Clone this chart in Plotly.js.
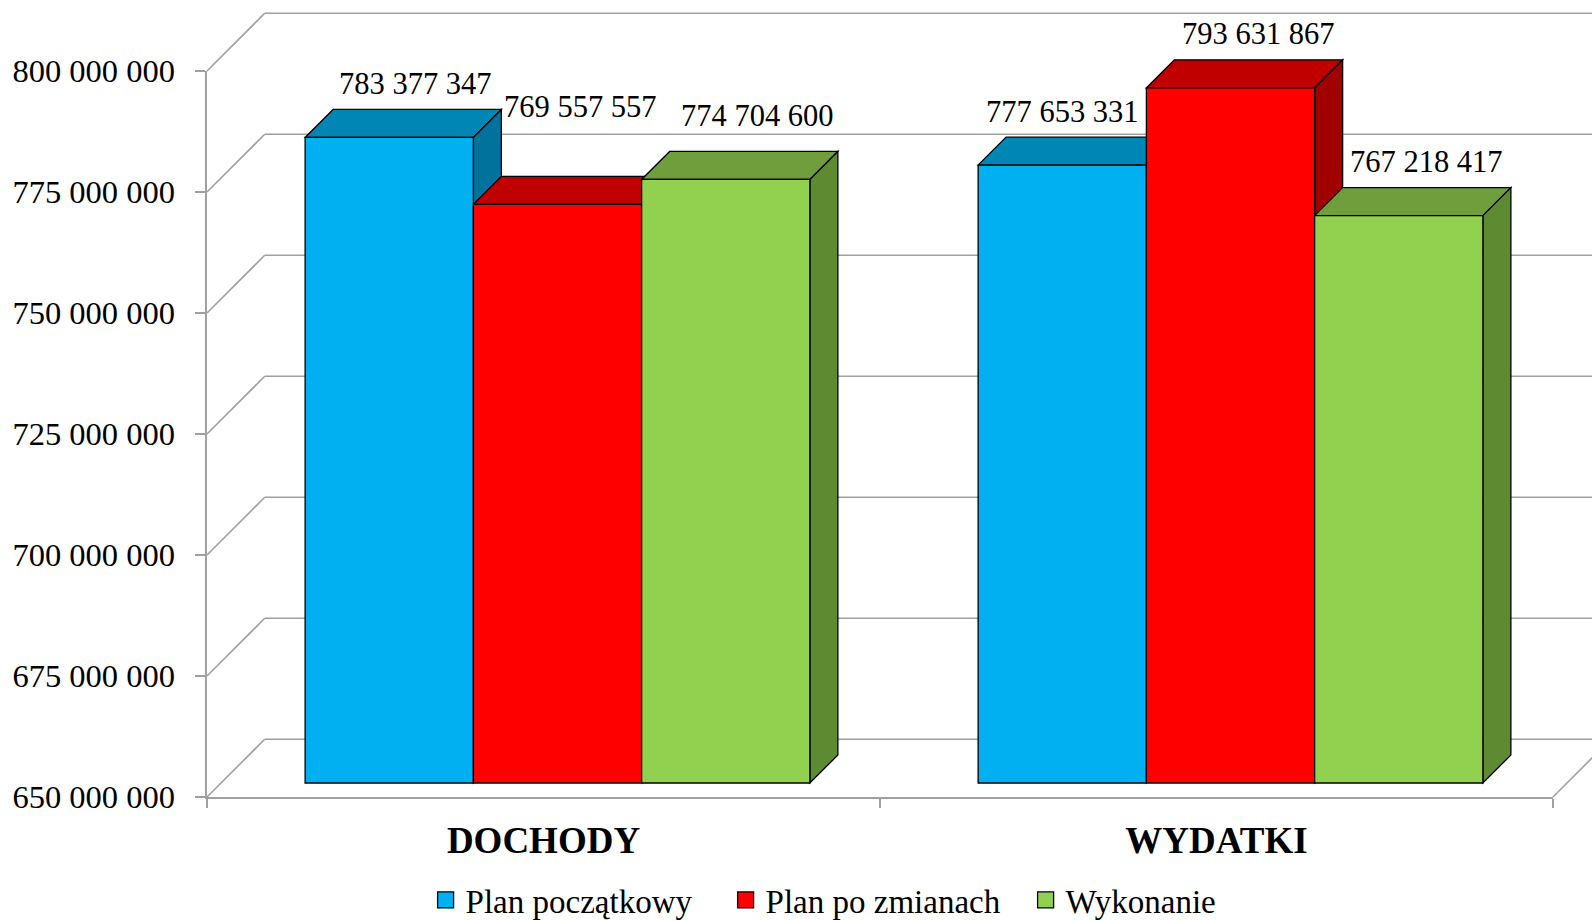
<!DOCTYPE html>
<html><head><meta charset="utf-8">
<script src="https://cdn.plot.ly/plotly-3.0.1.min.js"></script>
<style>html,body{margin:0;padding:0;background:#fff}</style>
</head><body><div id="chart" style="width:1592px;height:921px"></div>
<script>
// ---------- data ----------
const categories = ['DOCHODY', 'WYDATKI'];
const seriesNames = ['Plan początkowy', 'Plan po zmianach', 'Wykonanie'];
const planPoczatkowy = [783377347, 777653331];
const planPoZmianach = [769557557, 793631867];
const wykonanie = [774704600, 767218417];
const yTickVals = [650000000, 675000000, 700000000, 725000000, 750000000, 775000000, 800000000];

// ---------- style ----------
const frontColors = ['#00B0F0', '#FF0000', '#92D050'];
const topColors = ['#0086B5', '#C00000', '#709E3C'];
const sideColors = ['#00729B', '#A00000', '#5E8A32'];
const GRID = '#A0A0A0';
const FONT = '"Liberation Serif", "Times New Roman", serif';

const W = 1592, H = 921;
const FRONT_LEFT = 207, FRONT_BOTTOM = 797, PX_PER_CAT = 673, PX_PER_STEP = 121;
const BAR_OFF = 14, DEPTH = 28, WALL = 57.7;
const yMin = yTickVals[0], yMax = yTickVals[yTickVals.length - 1];
const STEP = yTickVals[1] - yTickVals[0];
const PXV = PX_PER_STEP / STEP;
const barLeft = FRONT_LEFT + BAR_OFF, barBottom = FRONT_BOTTOM - BAR_OFF;
const xRange = [-0.5 - barLeft / PX_PER_CAT, -0.5 + (W - barLeft) / PX_PER_CAT];
const yRange = [yMin - (H - barBottom) / PXV, yMin + barBottom / PXV];
const cx = px => px / PX_PER_CAT;
const cy = px => px / PXV;

const series = [planPoczatkowy, planPoZmianach, wykonanie];
const nCat = categories.length, nSer = series.length;
const bargap = 0.25;
const barW = (1 - bargap) / nSer;

// manual label nudges (px) [series][category]
const labelDx = [[-2, -28], [-5, 0], [4, 0]];
const labelDy = [[0, 0], [44, 0], [10, 0]];

const traces = series.map((vals, j) => ({
  type: 'bar', name: seriesNames[j], x: categories, y: vals.map(v => v - yMin), base: yMin,
  marker: {color: frontColors[j], line: {color: '#000', width: 1.3}},
  xaxis: 'x', yaxis: 'y', hoverinfo: 'skip', showlegend: false, legendgroup: 's' + j
}));
// legend keys (larger square swatches)
series.forEach((vals, j) => traces.push({
  type: 'scatter', mode: 'markers', name: seriesNames[j], x: [null], y: [null],
  xaxis: 'x2', yaxis: 'y2', legendgroup: 's' + j, hoverinfo: 'skip',
  marker: {symbol: 'square', size: 16, color: frontColors[j], line: {color: '#000', width: 1.3}}
}));
traces.push({type: 'scatter', mode: 'markers', x: categories, y: [yMin, yMin], xaxis: 'x2', yaxis: 'y2',
  marker: {opacity: 0}, showlegend: false, hoverinfo: 'skip'});

const shapes = [];
const gl = {color: GRID, width: 1.6};
const fx = -0.5 - cx(BAR_OFF);
const bx = -0.5 + cx(WALL - BAR_OFF);
yTickVals.forEach(v => {
  const fy = v - cy(BAR_OFF), by = v + cy(WALL - BAR_OFF);
  shapes.push({type: 'line', xref: 'x', yref: 'y', x0: fx, y0: fy, x1: bx, y1: by, line: gl, layer: 'below'});
  shapes.push({type: 'line', xref: 'x', yref: 'y', x0: bx, y0: by, x1: xRange[1] + 1, y1: by, line: gl, layer: 'below'});
});
const rx = nCat - 0.5;
shapes.push({type: 'line', xref: 'x', yref: 'y', x0: rx - cx(BAR_OFF), y0: yMin - cy(BAR_OFF),
  x1: rx + cx(WALL - BAR_OFF), y1: yMin + cy(WALL - BAR_OFF), line: gl, layer: 'below'});

const dx = cx(DEPTH), dy = cy(DEPTH);
const annotations = [];
for (let i = 0; i < nCat; i++) {
  for (let j = 0; j < nSer; j++) {
    const v = series[j][i];
    const l = i - (1 - bargap) / 2 + j * barW, r = l + barW;
    shapes.push({type: 'path', xref: 'x', yref: 'y', layer: 'below',
      path: `M${l},${v} L${r},${v} L${r + dx},${v + dy} L${l + dx},${v + dy} Z`,
      fillcolor: topColors[j], line: {color: '#000', width: 1.3}});
    shapes.push({type: 'path', xref: 'x', yref: 'y', layer: 'below',
      path: `M${r},${v} L${r + dx},${v + dy} L${r + dx},${yMin + dy} L${r},${yMin} Z`,
      fillcolor: sideColors[j], line: {color: '#000', width: 1.3}});
    annotations.push({xref: 'x', yref: 'y', x: (l + r) / 2, y: v, showarrow: false,
      xshift: DEPTH + labelDx[j][i], yshift: DEPTH + 25.5 + labelDy[j][i],
      xanchor: 'center', yanchor: 'middle',
      text: String(v).replace(/\B(?=(\d{3})+(?!\d))/g, ' '),
      font: {family: FONT, size: 30.5, color: '#000'}});
  }
}

const layout = {
  width: W, height: H, margin: {l: 0, r: 0, t: 0, b: 0, pad: 0, autoexpand: false},
  paper_bgcolor: '#fff', plot_bgcolor: 'rgba(0,0,0,0)',
  barmode: 'group', bargap: bargap, bargroupgap: 0,
  separators: ', ',
  showlegend: true,
  xaxis: {domain: [0, 1], range: xRange, type: 'category', visible: false, fixedrange: true},
  yaxis: {domain: [0, 1], range: yRange, visible: false, fixedrange: true},
  xaxis2: {domain: [FRONT_LEFT / W, (FRONT_LEFT + nCat * PX_PER_CAT) / W], range: [-0.5, nCat - 0.5],
    type: 'category', anchor: 'y2', showline: true, linecolor: GRID, linewidth: 1.6,
    ticks: 'outside', tickson: 'boundaries', ticklen: 9, tickcolor: GRID, tickwidth: 1.6,
    showgrid: false, zeroline: false, ticklabelstandoff: 10,
    tickfont: {family: FONT, size: 37, color: '#000', weight: 'bold'}},
  yaxis2: {domain: [(H - FRONT_BOTTOM) / H, (H - FRONT_BOTTOM + (yTickVals.length - 1) * PX_PER_STEP) / H],
    range: [yMin, yMax], anchor: 'x2', showline: true, linecolor: GRID, linewidth: 1.6,
    tickmode: 'array', tickvals: yTickVals, tickformat: ',d', ticks: 'outside', ticklen: 10,
    tickcolor: GRID, tickwidth: 1.6, showgrid: false, zeroline: false, ticklabelstandoff: 14,
    tickfont: {family: FONT, size: 32.5, color: '#000'}},
  legend: {orientation: 'h', x: 0.55, xanchor: 'center', y: (H - 900) / H, yanchor: 'middle',
    font: {family: FONT, size: 33, color: '#000'}, entrywidth: 255, traceorder: 'normal',
    bgcolor: 'rgba(0,0,0,0)'},
  shapes: shapes, annotations: annotations
};

Plotly.newPlot('chart', traces, layout, {displayModeBar: false, staticPlot: true});
</script></body></html>
